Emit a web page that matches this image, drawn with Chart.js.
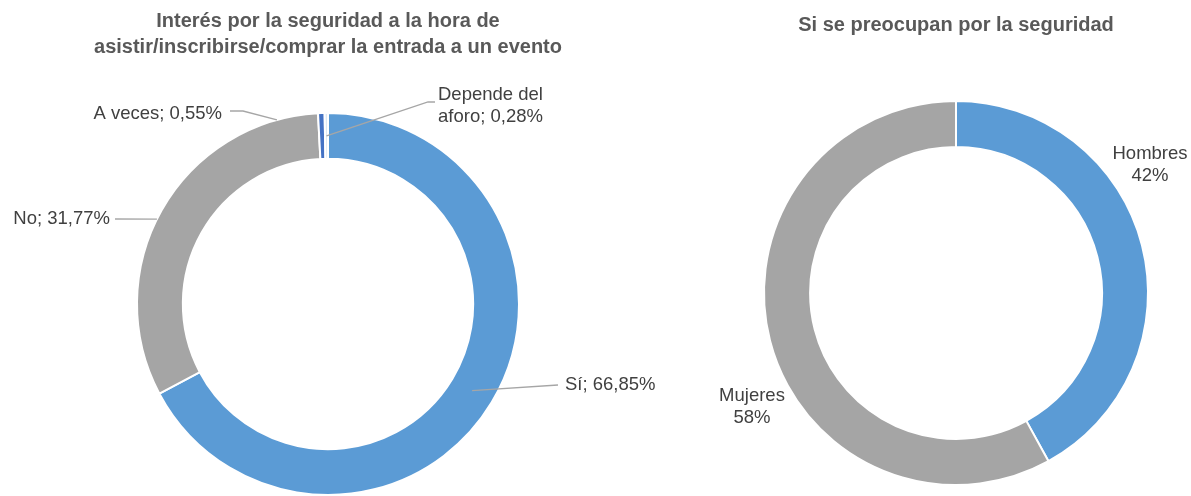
<!DOCTYPE html>
<html><head><meta charset="utf-8">
<script src="https://cdn.jsdelivr.net/npm/chart.js@4/dist/chart.umd.min.js"></script>
<style>
html,body{margin:0;padding:0;background:#fff;width:1191px;height:496px;overflow:hidden}
#l{position:absolute;left:0;top:0;width:656px;height:496px}
#r{position:absolute;left:656px;top:0;width:535px;height:496px}
</style></head><body>
<div id="l"><canvas id="c1"></canvas></div>
<div id="r"><canvas id="c2"></canvas></div>
<script>
// ---- data ----
const interesTitle = ['Interés por la seguridad a la hora de', 'asistir/inscribirse/comprar la entrada a un evento'];
const interesCategories = ['Sí', 'No', 'A veces', 'Depende del aforo'];
const interesValues = [66.85, 31.77, 0.55, 0.28];
const interesColors = ['#5B9BD5', '#A5A5A5', '#4472C4', '#DCE8F5'];

const generoTitle = 'Si se preocupan por la seguridad';
const generoCategories = ['Hombres', 'Mujeres'];
const generoValues = [42, 58];
const generoColors = ['#5B9BD5', '#A5A5A5'];

const FONT = '"Liberation Sans", Arial, sans-serif';
const fmt = v => v.toFixed(2).replace('.', ',') + '%';

const interesLabelLines = [
  [interesCategories[0] + '; ' + fmt(interesValues[0])],
  [interesCategories[1] + '; ' + fmt(interesValues[1])],
  [interesCategories[2] + '; ' + fmt(interesValues[2])],
  ['Depende del', 'aforo; ' + fmt(interesValues[3])]
];
const generoLabelLines = generoCategories.map((c, i) => [c, generoValues[i] + '%']);

// ---- label layout (offsets from doughnut centre / text anchor) ----
const interesLabelLayout = [
  {dx: 237, dy: 81, align: 'left', leader: [{t: [-7, 0]}, {arc: 'mid', r: 0.5}]},
  {dx: -218, dy: -85, align: 'right', leader: [{t: [5, 0]}, {angle: 296.4, r: 1}]},
  {dx: -106, dy: -190, align: 'right', leader: [{t: [8, -3]}, {t: [21, -3]}, {angle: 344.5, r: 1}]},
  {dx: 110, dy: -209, align: 'left', leader: [{t: [-3, 7]}, {t: [-10, 7]}, {arc: 'mid', r: 0.5}]}
];
const generoLabelLayout = [
  {dx: 194, dy: -139, align: 'center'},
  {dx: -204, dy: 103, align: 'center'}
];

const sliceLabels = {
  id: 'sliceLabels',
  afterDatasetsDraw(chart, args, opts) {
    const ctx = chart.ctx;
    const meta = chart.getDatasetMeta(0);
    ctx.save();
    ctx.font = opts.size + 'px ' + FONT;
    ctx.textBaseline = 'middle';
    opts.items.forEach((it, i) => {
      const arc = meta.data[i];
      const p = arc.getProps(['x', 'y', 'startAngle', 'endAngle', 'innerRadius', 'outerRadius'], true);
      const tx = p.x + it.dx, ty = p.y + it.dy;
      if (it.leader) {
        ctx.beginPath();
        ctx.strokeStyle = '#A6A6A6';
        ctx.lineWidth = 1.3;
        it.leader.forEach((pt, k) => {
          let x, y;
          if (pt.t) { x = tx + pt.t[0]; y = ty + pt.t[1]; }
          else {
            const a = pt.arc === 'mid' ? (p.startAngle + p.endAngle) / 2 : pt.angle * Math.PI / 180 - Math.PI / 2;
            const r = p.innerRadius + (p.outerRadius - p.innerRadius) * pt.r;
            x = p.x + r * Math.cos(a); y = p.y + r * Math.sin(a);
          }
          if (k === 0) ctx.moveTo(x, y); else ctx.lineTo(x, y);
        });
        ctx.stroke();
      }
      ctx.fillStyle = '#404040';
      ctx.textAlign = it.align;
      opts.lines[i].forEach((ln, k) => ctx.fillText(ln, tx, ty + k * opts.gap));
    });
    ctx.restore();
  }
};

function makeChart(id, labels, values, colors, title, titlePad, layoutPad, lines, layout) {
  return new Chart(document.getElementById(id), {
    type: 'doughnut',
    data: {labels, datasets: [{data: values, backgroundColor: colors, borderColor: '#FFFFFF', borderWidth: 2, hoverOffset: 0}]},
    options: {
      responsive: true, maintainAspectRatio: false, animation: false,
      cutout: '76%',
      layout: {padding: layoutPad},
      events: [],
      plugins: {
        legend: {display: false},
        tooltip: {enabled: false},
        title: {display: true, text: title, color: '#595959',
          font: {family: FONT, size: 20, weight: 'bold', lineHeight: 26 / 20}, padding: titlePad},
        sliceLabels: {size: 18.5, gap: 22, lines, items: layout}
      }
    },
    plugins: [sliceLabels]
  });
}

makeChart('c1', interesCategories, interesValues, interesColors, interesTitle,
  {top: 8, bottom: 52}, {top: 0, bottom: 0, left: 0, right: 0}, interesLabelLines, interesLabelLayout);
makeChart('c2', generoCategories, generoValues, generoColors, generoTitle,
  {top: 12, bottom: 62}, {top: 0, bottom: 10, left: 65, right: 0}, generoLabelLines, generoLabelLayout);
</script>
</body></html>
